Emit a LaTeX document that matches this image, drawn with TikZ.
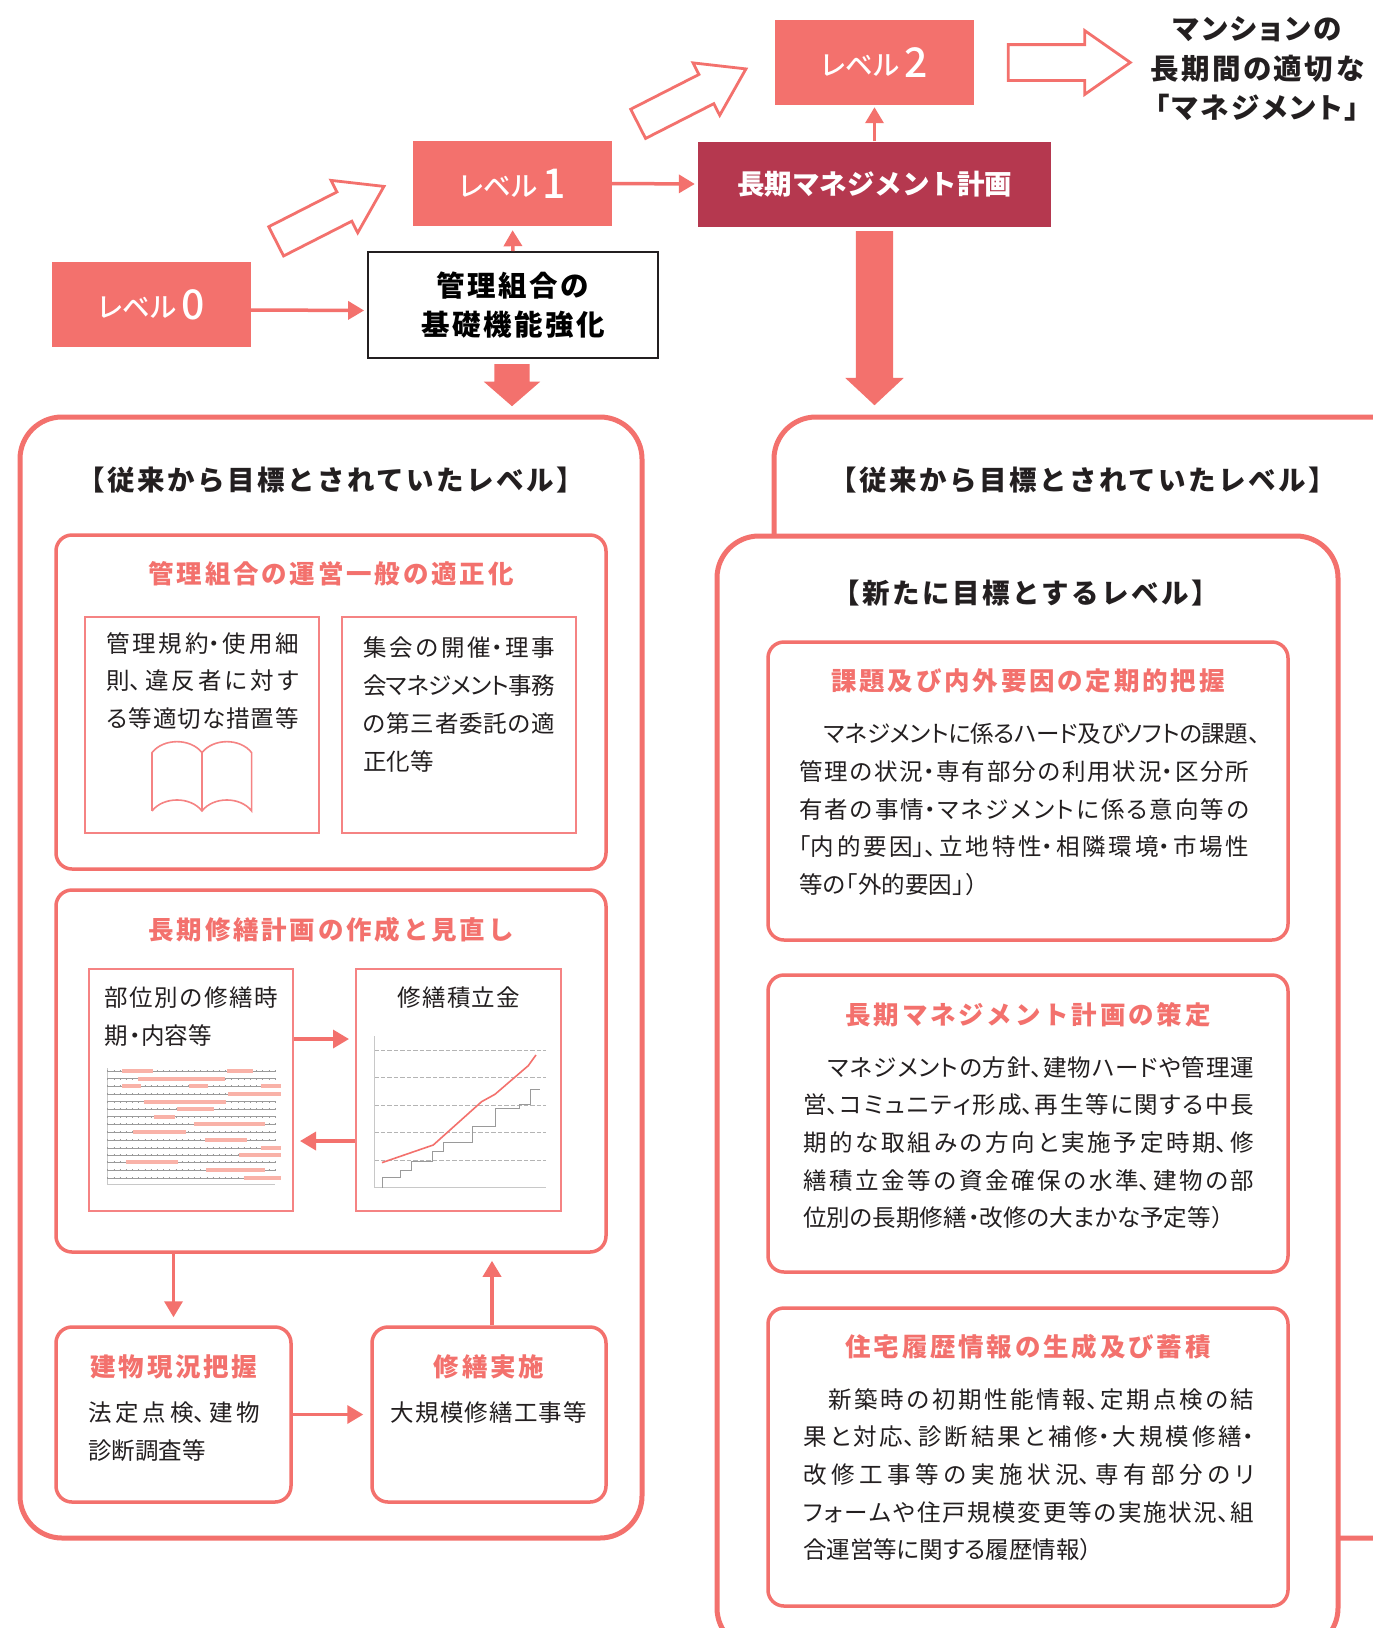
\documentclass[tikz,border=0pt]{standalone}
\usepackage{fontspec}
\setmainfont{Noto Sans CJK JP}[RawFeature=+palt]
\newfontfamily\tailfont{Noto Sans CJK JP}[RawFeature=+palt,LetterSpace=5]
\newfontfamily\headfont{Noto Sans CJK JP Black}[LetterSpace=9]
\newfontfamily\goalfont{Noto Sans CJK JP Black}[RawFeature=+palt,LetterSpace=9]
\newfontfamily\planfont{Noto Sans CJK JP Black}
\newfontfamily\coralfont{Noto Sans CJK JP}[LetterSpace=11]
\newfontfamily\lvlfont{Noto Sans CJK JP Medium}[RawFeature=+palt]
\usetikzlibrary{arrows.meta,
                calc,
                positioning,
                shapes.arrows}
\definecolor{coral_c}{HTML}{F3716D}
\definecolor{thin_c}{HTML}{F58383}
\definecolor{wine_c}{HTML}{B5384F}
\definecolor{ink_c}{HTML}{231F20}
\definecolor{bar_c}{HTML}{F9B2A8}
\definecolor{rule_c}{HTML}{9A9A9A}
\definecolor{axis_c}{HTML}{C8C8C8}
\XeTeXlinebreaklocale "ja"
\XeTeXlinebreakskip=0pt plus 4pt minus 0.6pt
\tolerance=10000
\hbadness=10000
\hfuzz=20pt
\newcommand{\bodyfont}{\fontsize{23.5}{37.7}\selectfont}
\newcommand{\heading}{\headfont\fontsize{27.5}{39}\selectfont}
\newcommand{\coralhead}{\coralfont\bfseries\fontsize{25.5}{36}\selectfont}
\newcommand{\jline}[1]{{\parfillskip=0pt\relax #1\par}}
\newcommand{\tailline}[1]{{\tailfont #1\par}}
\newcommand{\lvl}[1]{\lvlfont\fontsize{27.5}{30}\selectfont \raisebox{2pt}{レベル}\kern5pt{\fontsize{41}{30}\selectfont #1}}
\begin{document}
\begin{tikzpicture}[
			x=1pt,y=-1pt,
			lvlbox/.style = {fill=coral_c, text=white, minimum width=199pt, minimum height=85pt, inner sep=0pt},
			bigbox/.style = {draw=coral_c, fill=white, line width=5pt, rounded corners=42pt, inner sep=0pt},
			inbox/.style = {draw=coral_c, fill=white, line width=3.5pt, rounded corners=16pt, inner sep=0pt},
			subbox/.style = {draw=thin_c, line width=2pt, inner sep=0pt},
			flow/.style = {draw=coral_c, line width=3.5pt, -{Triangle[length=16pt,width=18pt]}},
			hollow/.style = {single arrow, draw=coral_c, fill=white, line width=2.8pt, inner xsep=0pt, inner ysep=15pt,
				minimum height=121pt, single arrow head extend=13pt, single arrow tip angle=67},
			bigdown/.style = {single arrow, fill=coral_c, rotate=-90, inner xsep=0pt},
			bodytext/.style = {anchor=north west, inner sep=0pt, font=\bodyfont, text=ink_c, align=justify},
			centertext/.style = {inner sep=0pt, font=\tailfont\bodyfont, text=ink_c},
			headtext/.style = {inner sep=0pt, font=\heading, text=ink_c, align=center},
			coraltext/.style = {inner sep=0pt, font=\coralhead, text=coral_c},
			]
			\path[use as bounding box, clip] (0,0) rectangle (1373,1628);
			\fill[white] (0,0) rectangle (1373,1628);
			% levels
			\node[lvlbox] (lvl0) at (151.5,304.5) {\lvl{0}};
			\node[lvlbox] (lvl1) at (512.5,183.5) {\lvl{1}};
			\node[lvlbox] (lvl2) at (874.5,62.5) {\lvl{2}};
			\node[fill=wine_c, text=white, minimum width=353pt, minimum height=85pt, inner sep=0pt, font=\planfont\fontsize{27.5}{39}\selectfont] (plan) at (874.5,184) {長期マネジメント計画};
			\node[draw=ink_c, fill=white, line width=1.8pt, minimum width=290pt, minimum height=106pt, inner sep=0pt, font=\headfont\fontsize{28.5}{39}\selectfont, align=center] (base) at (513,305) {管理組合の\\基礎機能強化};
			\node[headtext, font=\goalfont\fontsize{28.5}{39.5}\selectfont] (goal) at (1257,69) {マンションの\\長期間の適切な\\「マネジメント」};
			% block arrows
			\node[hollow, rotate=27] (up1) at (319,219.5) {};
			\node[hollow, rotate=27] (up2) at (681,102) {};
			\node[hollow, minimum height=122pt, inner ysep=16.5pt, single arrow head extend=14pt, single arrow tip angle=70] (out) at (1056.5,62.5) {};
			\node[bigdown, inner ysep=17.5pt, minimum height=42pt, single arrow head extend=10.5pt, single arrow tip angle=98] (down1) at (512,377.5) {};
			\node[bigdown, inner ysep=18.5pt, minimum height=174pt, single arrow head extend=10.5pt, single arrow tip angle=94] (down2) at (874.5,309.5) {};
			% edges
			\draw[flow, shorten >=3pt] ([yshift=-5.5pt]lvl0.east) -- ([yshift=-5.5pt]base.west);
			\draw[flow, shorten >=4pt] (base.north) -- (lvl1.south);
			\draw[flow, shorten >=3pt] (lvl1.east) -- (plan.west);
			\draw[flow, shorten >=2pt] (plan.north) -- (lvl2.south);
			% big frames
			\node[bigbox, minimum width=622pt, minimum height=1121pt] (left) at (331,977.5) {};
			\node[bigbox, minimum width=666pt, minimum height=1121pt] (back) at (1107,977.5) {};
			\node[bigbox, minimum width=621pt, minimum height=1114pt] (front) at (1027.5,1093) {};
			\node[headtext] (lefthead) at (331,480) {【\kern2.5pt従来から目標とされていたレベル\kern2.5pt】};
			\node[headtext] (backhead) at (1083,480) {【\kern2.5pt従来から目標とされていたレベル\kern2.5pt】};
			\node[headtext] (fronthead) at (1026,593) {【\kern2.5pt新たに目標とするレベル\kern2.5pt】};
			% left column
			\node[inbox, minimum width=550pt, minimum height=334pt] (rules) at (331,702) {};
			\node[coraltext] (rulest) at (331,574) {管理組合の運営一般の適正化};
			\node[subbox, minimum width=234pt, minimum height=216pt] (rulea) at (202,725) {};
			\node[subbox, minimum width=234pt, minimum height=216pt] (ruleb) at (459,725) {};
			\node[bodytext, text width=192pt] (ruleat) at (106.5,632) {\jline{管理規約・使用細}\jline{則、違反者に対す}\jline{る等適切な措置等}};
			\node[bodytext, text width=192pt] (rulebt) at (363,637) {\jline{集会の開催・理事}\jline{会マネジメント事務}\jline{の第三者委託の適}\tailline{正化等}};
			% book
			\begin{scope}[shift={(80,610)},x=0.3333pt,y=-0.3333pt,draw=thin_c,line width=1.6pt]
				\draw (216,603) -- (216,428) .. controls (250,384) and (332,384) .. (366,428) .. controls (400,384) and (481,384) .. (515,428) -- (515,603) .. controls (481,559) and (400,559) .. (366,603) .. controls (332,559) and (250,559) .. (216,603);
				\draw (366,428) -- (366,603);
			\end{scope}
			\node[inbox, minimum width=550pt, minimum height=362pt] (plans) at (331,1071) {};
			\node[coraltext] (planst) at (331,930) {長期修繕計画の作成と見直し};
			\node[subbox, minimum width=204pt, minimum height=242pt] (parts) at (191,1090) {};
			\node[subbox, minimum width=205pt, minimum height=242pt] (fund) at (458.5,1090) {};
			\node[bodytext, text width=173pt] (partst) at (104.5,987) {\jline{部位別の修繕時}\tailline{期・内容等}};
			\node[centertext] (fundt) at (459,998) {修繕積立金};
			\draw[flow, shorten >=6pt] ([yshift=51pt]parts.east) -- ([yshift=51pt]fund.west);
			\draw[flow, shorten >=-6pt] ([yshift=-51pt]fund.west) -- ([yshift=-51pt,xshift=12pt]parts.east);
			% gantt
			\begin{scope}[shift={(60,960)},x=0.3333pt,y=-0.3333pt]
				\draw[axis_c, line width=0.8pt] (142,325) -- (142,674) -- (645,674);
				\foreach \rowy in {333,356,379,402,425,447,470,493,516,540,564,585,607,630,654} {
					\draw[rule_c, line width=0.6pt] (142,\rowy) -- (645,\rowy);
					\draw[rule_c, line width=1.8pt, dash pattern=on 0.7pt off 5.5pt] (142,\rowy) -- (645,\rowy);
				}
				\foreach \rowy/\barfrom/\barto in {333/186/279,333/501/579,356/234/495,379/186/244,379/387/445,379/604/663,402/504/663,425/252/498,447/351/462,470/282/345,493/403/615,516/219/378,540/435/561,564/603/663,585/537/663,607/198/354,630/438/615,654/552/663} {
					\fill[bar_c] (\barfrom,\rowy-6) rectangle (\barto,\rowy+6);
				}
			\end{scope}
			% saving chart
			\begin{scope}[shift={(60,960)},x=0.3333pt,y=-0.3333pt]
				\foreach \rowy in {271,353,436,518,601} {
					\draw[axis_c!90!black, line width=0.9pt, dash pattern=on 4.5pt off 2pt] (943,\rowy) -- (1458,\rowy);
				}
				\draw[axis_c, line width=1pt] (943,228) -- (943,683) -- (1458,683);
				\draw[rule_c, line width=1pt] (968,683) -- (968,652) -- (1021,652) -- (1021,631) -- (1055,631) -- (1055,606) -- (1118,606) -- (1118,574) -- (1152,574) -- (1152,549) -- (1238,549) -- (1238,499) -- (1308,499) -- (1308,447) -- (1378,447) -- (1378,435) -- (1413,435) -- (1413,388) -- (1440,388);
				\draw[coral_c, line width=1.6pt] (966,608) -- (1120,555) -- (1265,425) -- (1305,403) -- (1405,317) -- (1428,285);
			\end{scope}
			% survey and repair
			\node[inbox, minimum width=235pt, minimum height=175pt] (survey) at (173.5,1414.5) {};
			\node[inbox, minimum width=234pt, minimum height=175pt] (repair) at (489,1414.5) {};
			\node[coraltext] (surveyt) at (174,1367) {建物現況把握};
			\node[coraltext] (repairt) at (489,1367) {修繕実施};
			\node[bodytext, text width=172pt] (surveyb) at (88,1402) {\jline{法定点検、建物}\tailline{診断調査等}};
			\node[centertext] (repairb) at (489,1413) {大規模修繕工事等};
			\draw[flow, shorten >=8pt] (plans.south -| survey.north) -- (survey.north);
			\draw[flow, shorten >=7pt] (survey.east) -- (repair.west);
			\draw[flow, shorten >=7pt] ([xshift=3pt]repair.north) -- ([xshift=3pt]repair.north |- plans.south);
			% right column
			\node[inbox, minimum width=520pt, minimum height=298pt] (issues) at (1028,791) {};
			\node[coraltext] (issuest) at (1028,681) {課題及び内外要因の定期的把握};
			\node[bodytext, text width=450pt] (issuesb) at (799,723) {\jline{\hspace*{25pt}マネジメントに係るハード及びソフトの課題、\kern-11pt}\jline{管理の状況・専有部分の利用状況・区分所}\jline{有者の事情・マネジメントに係る意向等の}\jline{「内的要因」、立地特性・相隣環境・市場性}\tailline{等の「外的要因」）}};
			\node[inbox, minimum width=520pt, minimum height=297pt] (mgmt) at (1028,1123.5) {};
			\node[coraltext] (mgmtt) at (1028,1015) {長期マネジメント計画の策定};
			\node[bodytext, text width=451pt] (mgmtb) at (803,1056) {\jline{\hspace*{25pt}マネジメントの方針、建物ハードや管理運}\jline{営、コミュニティ形成、再生等に関する中長}\jline{期的な取組みの方向と実施予定時期、修}\jline{繕積立金等の資金確保の水準、建物の部}\tailline{位別の長期修繕・改修の大まかな予定等）}};
			\node[inbox, minimum width=520pt, minimum height=298pt] (record) at (1028,1457) {};
			\node[coraltext] (recordt) at (1028,1347) {住宅履歴情報の生成及び蓄積};
			\node[bodytext, text width=451pt] (recordb) at (803,1388) {\jline{\hspace*{25pt}新築時の初期性能情報、定期点検の結}\jline{果と対応、診断結果と補修・大規模修繕・}\jline{改修工事等の実施状況、専有部分のリ}\jline{フォームや住戸規模変更等の実施状況、組}\tailline{合運営等に関する履歴情報）}};
		\end{tikzpicture}
\end{document}
